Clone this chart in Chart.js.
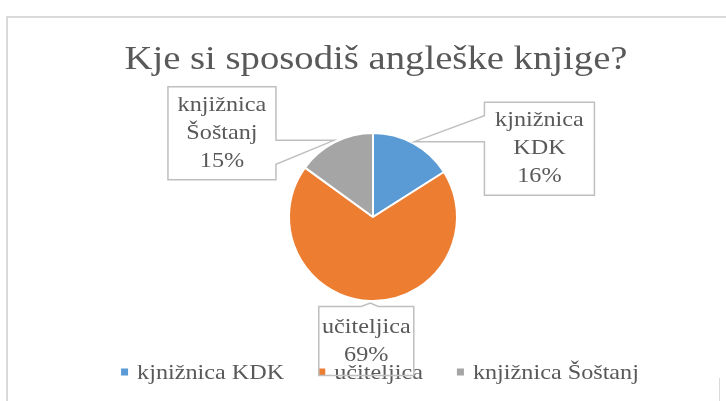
<!DOCTYPE html>
<html>
<head>
<meta charset="utf-8">
<script src="https://cdn.jsdelivr.net/npm/chart.js@4/dist/chart.umd.min.js"></script>
<style>
  body { margin: 0; background: #fff; }
  canvas { display: block; }
</style>
</head>
<body>
<canvas id="graf" width="726" height="401"></canvas>
<script>
const naslov = 'Kje si sposodiš angleške knjige?';
const kategorije = ['kjnižnica KDK', 'učiteljica', 'knjižnica Šoštanj'];
const oznake = [['kjnižnica', 'KDK'], ['učiteljica'], ['knjižnica', 'Šoštanj']];
const delezi = [16, 69, 15];
const barve = ['#5B9BD5', '#ED7D31', '#A5A5A5'];

const pisava = '"Liberation Serif", serif';
const sivo = '#595959';
const robOkvirja = '#bfbfbf';
const raztegni = 1.1; // Cambria je širša od Liberation Serif

// kje stoji okvir oznake glede na konico (sredina loka izseka)
const okvirji = [
  { dx: 125, dy: 7, w: 110, h: 93, rob: 'levo', a: -26, b: 0 },
  { dx: -4, dy: 38, w: 95, h: 69, rob: 'zgoraj', a: -9, b: 8 },
  { dx: -112, dy: -7, w: 108, h: 93, rob: 'desno', a: 0, b: 24 }
];

function konica(arc) {
  const kot = (arc.startAngle + arc.endAngle) / 2;
  const r = arc.outerRadius + 2;
  return { x: arc.x + Math.cos(kot) * r, y: arc.y + Math.sin(kot) * r };
}

function potOkvirja(ctx, k, o) {
  const x0 = k.x + o.dx - o.w / 2, y0 = k.y + o.dy - o.h / 2;
  const x1 = x0 + o.w, y1 = y0 + o.h;
  ctx.beginPath();
  if (o.rob === 'levo') {
    ctx.moveTo(x0, y0); ctx.lineTo(x1, y0); ctx.lineTo(x1, y1); ctx.lineTo(x0, y1);
    ctx.lineTo(x0, k.y + o.b); ctx.lineTo(k.x, k.y); ctx.lineTo(x0, k.y + o.a);
  } else if (o.rob === 'desno') {
    ctx.moveTo(x0, y0); ctx.lineTo(x1, y0); ctx.lineTo(x1, k.y + o.a); ctx.lineTo(k.x, k.y);
    ctx.lineTo(x1, k.y + o.b); ctx.lineTo(x1, y1); ctx.lineTo(x0, y1);
  } else {
    ctx.moveTo(x0, y0); ctx.lineTo(k.x + o.a, y0); ctx.lineTo(k.x, k.y); ctx.lineTo(k.x + o.b, y0);
    ctx.lineTo(x1, y0); ctx.lineTo(x1, y1); ctx.lineTo(x0, y1);
  }
  ctx.closePath();
  return { cx: x0 + o.w / 2, cy: y0 + o.h / 2 };
}

function besedilo(ctx, t, x, y, sx) {
  ctx.save();
  ctx.translate(x, y);
  ctx.scale(sx, 1);
  ctx.fillText(t, 0, 0);
  ctx.restore();
}

const okrasi = {
  id: 'okrasi',
  afterDraw(chart) {
    const ctx = chart.ctx;
    const loki = chart.getDatasetMeta(0).data;
    const vsota = delezi.reduce((s, v) => s + v, 0);
    ctx.save();

    // okvir grafa
    ctx.strokeStyle = '#d9d9d9';
    ctx.lineWidth = 2;
    ctx.beginPath();
    ctx.moveTo(7, 401); ctx.lineTo(7, 17); ctx.lineTo(726, 17);
    ctx.stroke();
    ctx.lineWidth = 1;
    ctx.beginPath();
    ctx.moveTo(719.5, 378); ctx.lineTo(719.5, 401);
    ctx.stroke();

    // naslov, raztegnjen na širino iz slike
    ctx.fillStyle = sivo;
    ctx.font = '33px ' + pisava;
    ctx.textAlign = 'center';
    ctx.textBaseline = 'alphabetic';
    const sxN = 503 / ctx.measureText(naslov).width;
    besedilo(ctx, naslov, 376, 69, sxN);

    // bele podlage oznak
    loki.forEach((arc, i) => {
      potOkvirja(ctx, konica(arc), okvirji[i]);
      ctx.fillStyle = '#fff';
      ctx.fill();
    });

    // legenda
    ctx.font = '22px ' + pisava;
    ctx.textAlign = 'left';
    ctx.textBaseline = 'middle';
    const kvadrat = 7, presledek = 9, razmik = 34;
    const sirine = kategorije.map(t => ctx.measureText(t).width * raztegni);
    const skupaj = sirine.reduce((s, w) => s + kvadrat + presledek + w, 0) + razmik * (kategorije.length - 1);
    let x = 380 - skupaj / 2;
    const yL = 372;
    kategorije.forEach((t, i) => {
      ctx.fillStyle = barve[i];
      ctx.fillRect(x, yL - kvadrat / 2, kvadrat, kvadrat);
      x += kvadrat + presledek;
      ctx.fillStyle = sivo;
      besedilo(ctx, t, x, yL + 1, raztegni);
      x += sirine[i] + razmik;
    });

    // oznake s kazalci
    loki.forEach((arc, i) => {
      const s = potOkvirja(ctx, konica(arc), okvirji[i]);
      ctx.strokeStyle = robOkvirja;
      ctx.lineWidth = 1.5;
      ctx.stroke();
      const vrstice = oznake[i].concat([Math.round(delezi[i] / vsota * 100) + '%']);
      ctx.fillStyle = sivo;
      ctx.font = '22px ' + pisava;
      ctx.textAlign = 'center';
      ctx.textBaseline = 'middle';
      const vv = 28;
      vrstice.forEach((v, j) => {
        besedilo(ctx, v, s.cx, s.cy + (j - (vrstice.length - 1) / 2) * vv, raztegni);
      });
    });
    ctx.restore();
  }
};

new Chart(document.getElementById('graf'), {
  type: 'pie',
  data: {
    labels: kategorije,
    datasets: [{
      data: delezi,
      backgroundColor: barve,
      borderColor: '#ffffff',
      borderWidth: 2
    }]
  },
  options: {
    responsive: false,
    animation: false,
    layout: { padding: { top: 132, bottom: 99, left: 20, right: 0 } },
    plugins: {
      legend: { display: false },
      title: { display: false },
      tooltip: { enabled: false }
    }
  },
  plugins: [okrasi]
});
</script>
</body>
</html>
